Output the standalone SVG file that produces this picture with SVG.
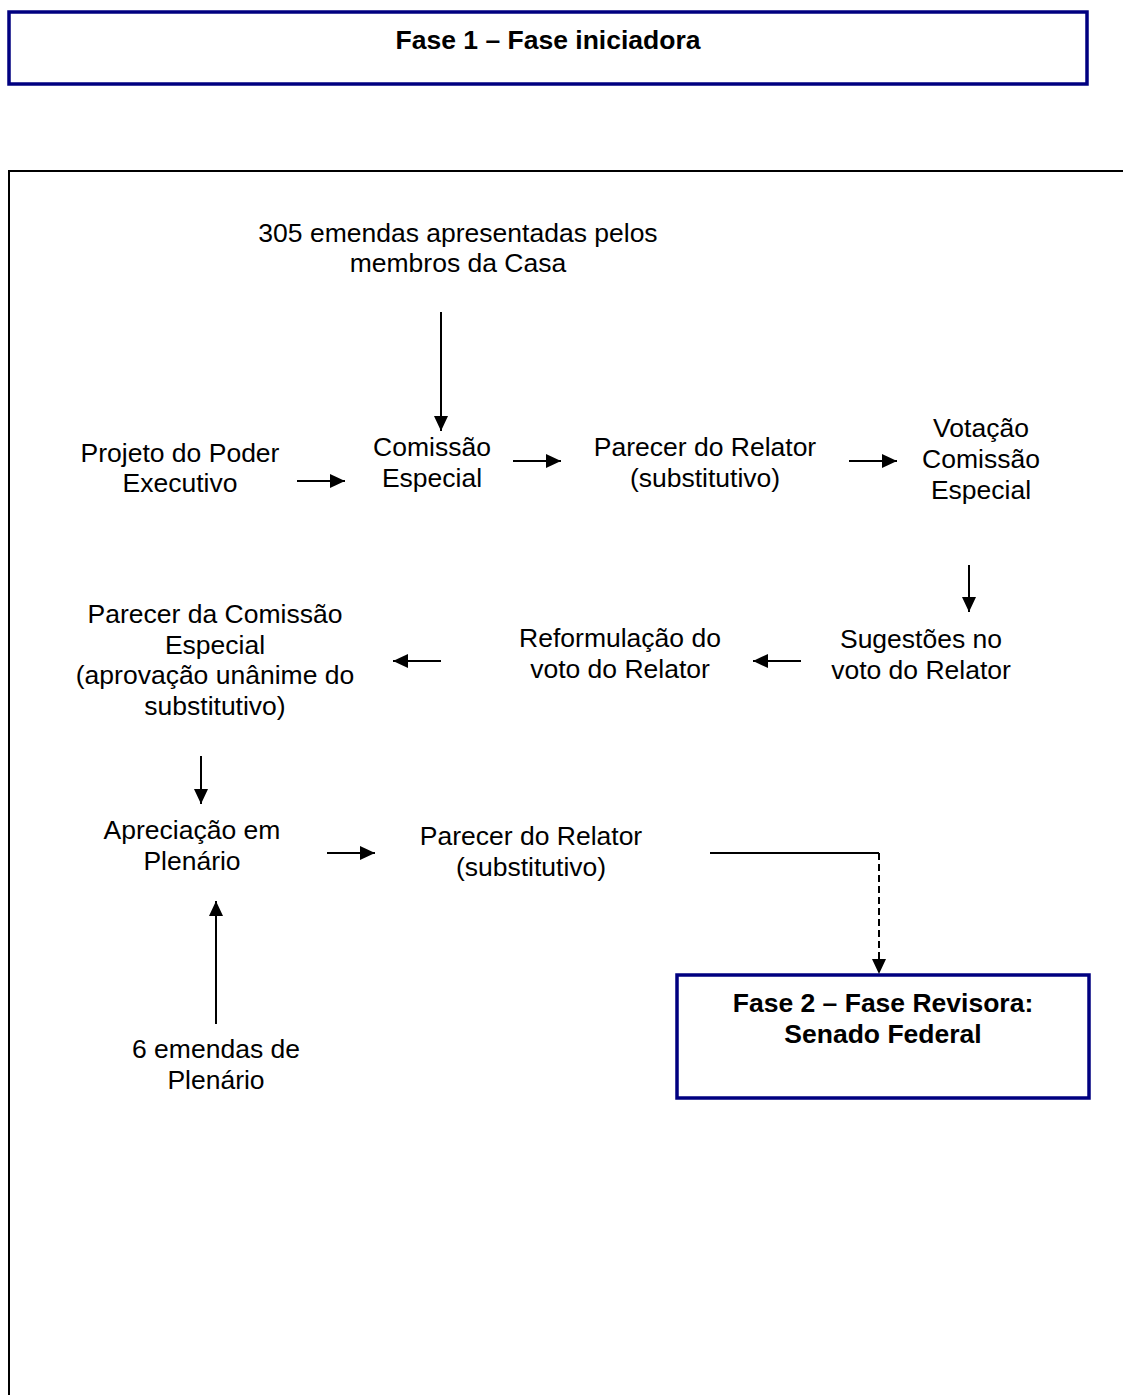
<svg xmlns="http://www.w3.org/2000/svg" width="1123" height="1395" viewBox="0 0 1123 1395">
<style>
.t{font-family:"Liberation Sans",Arial,sans-serif;font-size:26.5px;fill:#000;text-anchor:middle}
.b{font-weight:bold}
.box{fill:#fff;stroke:#000080;stroke-width:3.5}
.c{stroke:#000;stroke-width:2;fill:none}
</style>
<defs>
<marker id="ah" markerUnits="userSpaceOnUse" markerWidth="16" markerHeight="14" refX="15" refY="7" orient="auto">
<path d="M0,0 L15,7 L0,14 Z" fill="#000"/>
</marker>
</defs>
<rect width="1123" height="1395" fill="#fff"/>
<g id="fase1">
<rect class="box" x="9" y="12" width="1078" height="72"/>
<text class="t b" x="548" y="49">Fase 1 – Fase iniciadora</text>
</g>
<path id="frame" d="M1123,171 H9 V1395" stroke="#000" stroke-width="2" fill="none"/>
<g id="emendas305"><text class="t" x="458" y="242">305 emendas apresentadas pelos</text><text class="t" x="458" y="272">membros da Casa</text></g>
<g id="projeto"><text class="t" x="180" y="462">Projeto do Poder</text><text class="t" x="180" y="492">Executivo</text></g>
<g id="comissao"><text class="t" x="432" y="456">Comissão</text><text class="t" x="432" y="487">Especial</text></g>
<g id="parecer1"><text class="t" x="705" y="456">Parecer do Relator</text><text class="t" x="705" y="487">(substitutivo)</text></g>
<g id="votacao"><text class="t" x="981" y="437">Votação</text><text class="t" x="981" y="468">Comissão</text><text class="t" x="981" y="499">Especial</text></g>
<g id="sugestoes"><text class="t" x="921" y="648">Sugestões no</text><text class="t" x="921" y="679">voto do Relator</text></g>
<g id="reformulacao"><text class="t" x="620" y="647">Reformulação do</text><text class="t" x="620" y="678">voto do Relator</text></g>
<g id="parecerComissao"><text class="t" x="215" y="623">Parecer da Comissão</text><text class="t" x="215" y="654">Especial</text><text class="t" x="215" y="684">(aprovação unânime do</text><text class="t" x="215" y="715">substitutivo)</text></g>
<g id="apreciacao"><text class="t" x="192" y="839">Apreciação em</text><text class="t" x="192" y="870">Plenário</text></g>
<g id="parecer2"><text class="t" x="531" y="845">Parecer do Relator</text><text class="t" x="531" y="876">(substitutivo)</text></g>
<g id="emendas6"><text class="t" x="216" y="1058">6 emendas de</text><text class="t" x="216" y="1089">Plenário</text></g>
<g id="fase2">
<rect class="box" x="677" y="975" width="412" height="123"/>
<text class="t b" x="883" y="1012">Fase 2 – Fase Revisora:</text>
<text class="t b" x="883" y="1043">Senado Federal</text>
</g>
<g id="connectors">
<line class="c" x1="441" y1="312" x2="441" y2="431" marker-end="url(#ah)"/>
<line class="c" x1="297" y1="481" x2="345" y2="481" marker-end="url(#ah)"/>
<line class="c" x1="513" y1="461" x2="561" y2="461" marker-end="url(#ah)"/>
<line class="c" x1="849" y1="461" x2="897" y2="461" marker-end="url(#ah)"/>
<line class="c" x1="969" y1="565" x2="969" y2="612" marker-end="url(#ah)"/>
<line class="c" x1="801" y1="661" x2="753" y2="661" marker-end="url(#ah)"/>
<line class="c" x1="441" y1="661" x2="393" y2="661" marker-end="url(#ah)"/>
<line class="c" x1="201" y1="756" x2="201" y2="804" marker-end="url(#ah)"/>
<line class="c" x1="327" y1="853" x2="375" y2="853" marker-end="url(#ah)"/>
<line class="c" x1="216" y1="1024" x2="216" y2="901" marker-end="url(#ah)"/>
<path class="c" d="M710,853 H879"/>
<line class="c" x1="879" y1="853" x2="879" y2="974" stroke-dasharray="7,4" marker-end="url(#ah)"/>
</g>
</svg>
